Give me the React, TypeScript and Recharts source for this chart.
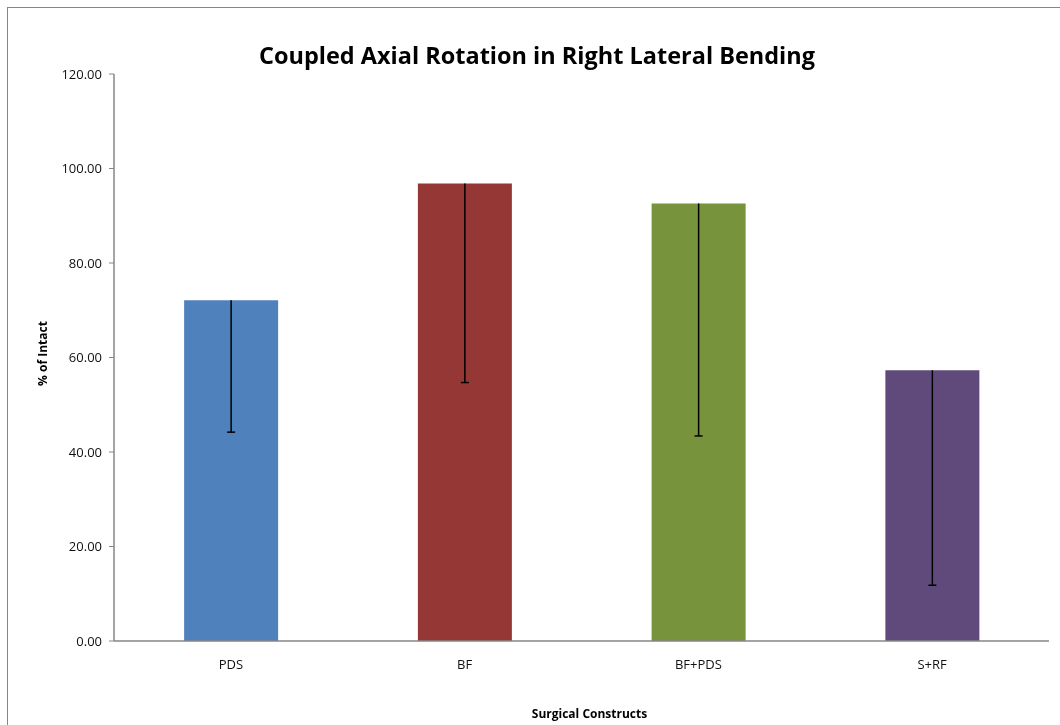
import React from "react";
import { BarChart, Bar, XAxis, YAxis, ErrorBar, Cell } from "recharts";

const constructs = ["PDS", "BF", "BF+PDS", "S+RF"];
const percentOfIntact = [72.1, 96.8, 92.6, 57.3];
const minusError = [27.9, 42.1, 49.2, 45.5];
const barColors = ["#4F81BD", "#953735", "#77933C", "#604A7B"];
const yTicks = [0, 20, 40, 60, 80, 100, 120];

const data = constructs.map((name, i) => ({
  name,
  value: percentOfIntact[i],
  err: [minusError[i], 0],
}));

const font = "'Open Sans', sans-serif";

export default function App() {
  return (
    <div style={{ position: "relative", width: 1052, height: 716, fontFamily: font }}>
      {/* only the minus side of each error bar is shown, so hide the cap at the bar top */}
      <style>{`.recharts-errorBar line:first-of-type { display: none; }`}</style>
      <div style={{ position: "fixed", left: 7, top: 7, width: 1, height: 718, background: "#868686" }} />
      <div style={{ position: "fixed", left: 7, top: 7, width: 1053, height: 1, background: "#868686" }} />
      <svg width={1052} height={70} style={{ position: "absolute", left: 0, top: 0 }}>
        <text
          x={529}
          y={56}
          textAnchor="middle"
          fontFamily={font}
          fontWeight={700}
          fontSize={24}
          fill="#000"
          textLength={556}
          lengthAdjust="spacingAndGlyphs"
        >
          Coupled Axial Rotation in Right Lateral Bending
        </text>
      </svg>
      <BarChart
        width={1052}
        height={716}
        data={data}
        barCategoryGap="30%"
        margin={{ top: 66, right: 11, left: 0, bottom: 0 }}
      >
        <XAxis
          dataKey="name"
          height={83}
          tickLine={false}
          tickSize={0}
          tickMargin={19}
          axisLine={{ stroke: "#868686", strokeWidth: 1.5 }}
          tick={{ fill: "#111", fontSize: 13, fontFamily: font }}
          label={({ viewBox }: any) => (
            <text
              x={viewBox.x + viewBox.width / 2 + 8}
              y={viewBox.y + 77}
              textAnchor="middle"
              fontFamily={font}
              fontWeight={700}
              fontSize={12}
              fill="#000"
            >
              Surgical Constructs
            </text>
          )}
        />
        <YAxis
          width={106}
          domain={[0, 120]}
          ticks={yTicks}
          interval={0}
          tickFormatter={(v: number) => v.toFixed(2)}
          tickSize={5}
          tickMargin={7}
          tickLine={{ stroke: "#868686" }}
          axisLine={{ stroke: "#868686", strokeWidth: 1.5 }}
          tick={{ fill: "#111", fontSize: 13, fontFamily: font }}
          label={({ viewBox }: any) => {
            const cx = viewBox.x + 34;
            const cy = viewBox.y + viewBox.height / 2 - 4;
            return (
              <text
                x={cx}
                y={cy}
                transform={`rotate(-90 ${cx} ${cy})`}
                textAnchor="middle"
                dominantBaseline="central"
                fontFamily={font}
                fontWeight={700}
                fontSize={12}
                fill="#000"
              >
                % of Intact
              </text>
            );
          }}
        />
        <Bar dataKey="value" isAnimationActive={false}>
          {data.map((d, i) => (
            <Cell key={d.name} fill={barColors[i]} />
          ))}
          <ErrorBar dataKey="err" width={4} stroke="#000" strokeWidth={1.5} isAnimationActive={false} />
        </Bar>
      </BarChart>
    </div>
  );
}
